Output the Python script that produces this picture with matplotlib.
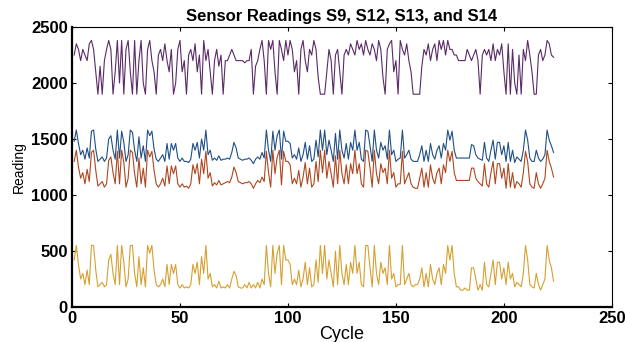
import matplotlib.pyplot as plt
import numpy as np

# readings per cycle
s9 = [2250, 2350, 2300, 2200, 2300, 2250, 2200, 2350, 2380, 2300,
      2100, 1900, 2150, 1900, 2200, 2300, 2380, 2300, 1900, 2100,
      2380, 2000, 2380, 1900, 2300, 2380, 2100, 1900, 2380, 1900,
      2200, 2380, 2000, 1900, 2300, 2380, 2200, 2100, 1900, 2250,
      2300, 2200, 2350, 2200, 2100, 2300, 1900, 2000, 2300, 2380,
      2100, 2200, 1900, 2250, 2300, 2200, 2350, 2100, 2250, 1900,
      2380, 2200, 2300, 2100, 1900, 2200, 2300, 2150, 2250, 1900,
      2200, 2200, 2250, 2300, 2250, 2200, 2200, 2200, 2200, 2180,
      2200, 2200, 2300, 1900, 2150, 2200, 2300, 2380, 2200, 1900,
      2380, 2300, 2380, 2100, 1900, 2380, 2300, 2200, 2380, 2250,
      2380, 2300, 2100, 2200, 1900, 2300, 2380, 2200, 2100, 2300,
      2250, 2380, 2300, 2050, 1900, 1900, 1900, 2100, 2300, 2200,
      1900, 2250, 2300, 2100, 1900, 2250, 2300, 2250, 2350, 2300,
      2250, 2380, 2300, 2350, 2250, 2380, 2300, 2250, 2350, 2300,
      2200, 2380, 2300, 2050, 1900, 2300, 2350, 2380, 2100, 2200,
      1900, 2380, 2300, 2250, 2350, 2200, 2100, 1900, 1900, 1900,
      1900, 2150, 2300, 2250, 2350, 2200, 2300, 2350, 2200, 2380,
      2300, 2380, 2250, 2380, 2300, 2300, 2250, 2250, 2200, 2200,
      2200, 2200, 2300, 2250, 2200, 2250, 2300, 2200, 1900, 2250,
      2300, 2250, 2300, 2200, 2350, 2200, 2300, 2250, 2350, 2100,
      1900, 2350, 1900, 2300, 2000, 1900, 2250, 1900, 2300, 2200,
      2380, 2250, 2100, 1900, 1900, 2250, 2300, 2200, 2250, 2380,
      2350, 2250, 2230]

s12 = [1480, 1580, 1460, 1360, 1400, 1320, 1420, 1330, 1570, 1580,
       1410, 1300, 1320, 1340, 1300, 1330, 1500, 1530, 1400, 1320,
       1580, 1330, 1570, 1470, 1300, 1360, 1580, 1560, 1400, 1300,
       1520, 1330, 1440, 1300, 1580, 1530, 1570, 1410, 1320, 1300,
       1330, 1360, 1300, 1460, 1320, 1460, 1400, 1460, 1330, 1300,
       1330, 1300, 1300, 1290, 1320, 1460, 1400, 1470, 1330, 1500,
       1400, 1580, 1360, 1400, 1310, 1330, 1310, 1350, 1310, 1320,
       1320, 1330, 1320, 1380, 1470, 1420, 1330, 1320, 1310, 1320,
       1320, 1330, 1310, 1280, 1320, 1340, 1320, 1380, 1330, 1580,
       1400, 1300, 1570, 1400, 1530, 1580, 1320, 1570, 1480, 1480,
       1460, 1330, 1360, 1320, 1420, 1300, 1360, 1470, 1320, 1440,
       1300, 1320, 1490, 1340, 1580, 1400, 1580, 1360, 1490, 1400,
       1300, 1550, 1320, 1580, 1400, 1330, 1460, 1320, 1470, 1400,
       1580, 1400, 1470, 1320, 1300, 1580, 1570, 1440, 1300, 1580,
       1400, 1330, 1470, 1400, 1440, 1320, 1580, 1360, 1400, 1300,
       1320, 1330, 1580, 1330, 1360, 1400, 1320, 1300, 1300, 1300,
       1360, 1440, 1300, 1400, 1300, 1460, 1360, 1320, 1400, 1440,
       1330, 1460, 1400, 1580, 1490, 1570, 1400, 1330, 1330, 1330,
       1330, 1330, 1330, 1330, 1450, 1440, 1360, 1330, 1320, 1310,
       1470, 1330, 1300, 1400, 1490, 1320, 1470, 1470, 1360, 1440,
       1300, 1470, 1300, 1400, 1290, 1340, 1320, 1300, 1400, 1580,
       1490, 1330, 1300, 1300, 1400, 1330, 1300, 1320, 1360, 1580,
       1490, 1440, 1380]

s13 = [1300, 1400, 1250, 1150, 1200, 1100, 1230, 1120, 1380, 1400,
       1220, 1080, 1100, 1120, 1070, 1100, 1310, 1340, 1200, 1100,
       1390, 1100, 1400, 1290, 1070, 1150, 1400, 1380, 1190, 1070,
       1330, 1100, 1240, 1070, 1400, 1340, 1390, 1220, 1100, 1070,
       1100, 1150, 1080, 1260, 1100, 1260, 1190, 1260, 1100, 1070,
       1100, 1070, 1080, 1060, 1100, 1270, 1190, 1280, 1100, 1320,
       1190, 1390, 1150, 1200, 1080, 1110, 1090, 1130, 1090, 1100,
       1110, 1120, 1110, 1160, 1250, 1200, 1120, 1110, 1100, 1110,
       1110, 1120, 1100, 1060, 1100, 1130, 1110, 1160, 1120, 1390,
       1200, 1070, 1400, 1190, 1340, 1400, 1090, 1390, 1300, 1300,
       1270, 1100, 1150, 1100, 1220, 1070, 1160, 1290, 1100, 1240,
       1070, 1100, 1300, 1120, 1400, 1200, 1400, 1150, 1300, 1190,
       1070, 1350, 1100, 1400, 1190, 1100, 1270, 1100, 1280, 1190,
       1400, 1190, 1280, 1100, 1070, 1400, 1390, 1240, 1070, 1400,
       1190, 1100, 1280, 1200, 1240, 1100, 1400, 1150, 1200, 1070,
       1100, 1100, 1390, 1100, 1150, 1200, 1100, 1070, 1060, 1060,
       1150, 1240, 1070, 1200, 1070, 1270, 1150, 1100, 1200, 1240,
       1100, 1270, 1200, 1400, 1300, 1390, 1200, 1130, 1130, 1130,
       1130, 1130, 1130, 1130, 1240, 1240, 1150, 1120, 1100, 1080,
       1280, 1100, 1070, 1200, 1300, 1100, 1280, 1280, 1150, 1240,
       1060, 1280, 1070, 1200, 1060, 1120, 1100, 1070, 1200, 1390,
       1300, 1100, 1070, 1060, 1200, 1100, 1060, 1100, 1150, 1400,
       1300, 1240, 1160]

s14 = [420, 550, 380, 250, 300, 200, 330, 200, 550, 550,
       330, 180, 200, 220, 180, 200, 420, 470, 300, 200,
       550, 200, 550, 400, 180, 250, 550, 550, 300, 180,
       450, 200, 350, 180, 550, 480, 550, 330, 200, 180,
       200, 250, 180, 380, 200, 380, 300, 380, 200, 170,
       200, 170, 180, 170, 200, 380, 300, 400, 200, 450,
       300, 550, 250, 300, 180, 200, 170, 230, 170, 180,
       170, 200, 170, 250, 320, 280, 180, 170, 170, 200,
       170, 220, 170, 200, 170, 220, 170, 250, 200, 550,
       300, 180, 550, 300, 480, 550, 200, 550, 420, 420,
       380, 200, 250, 200, 330, 180, 250, 400, 200, 350,
       180, 200, 420, 220, 550, 300, 550, 250, 420, 300,
       180, 500, 200, 550, 300, 200, 380, 200, 400, 300,
       550, 300, 400, 200, 180, 550, 550, 350, 180, 550,
       300, 200, 400, 300, 350, 200, 550, 250, 300, 180,
       200, 200, 550, 200, 250, 300, 200, 180, 200, 200,
       250, 350, 180, 300, 180, 380, 250, 200, 300, 350,
       200, 380, 300, 550, 420, 550, 300, 180, 180, 150,
       150, 170, 150, 150, 350, 350, 250, 150, 200, 150,
       400, 200, 180, 300, 420, 200, 400, 400, 250, 350,
       200, 400, 250, 300, 180, 220, 200, 180, 300, 550,
       420, 200, 180, 170, 300, 200, 150, 200, 250, 550,
       420, 350, 230]

cycles = np.arange(1, len(s14) + 1)

plt.rcParams['font.family'] = ['Liberation Sans', 'DejaVu Sans']

fig = plt.figure(figsize=(6.25, 3.42), dpi=100)
ax = fig.add_axes([0.1152, 0.1023, 0.8638, 0.8187])

ax.plot(cycles, s9, color='#5a2a66', lw=0.8)
ax.plot(cycles, s12, color='#1f4f85', lw=0.8)
ax.plot(cycles, s13, color='#b0461f', lw=0.8)
ax.plot(cycles, s14, color='#d6a030', lw=0.8)

ax.set_xlim(0, 250)
ax.set_ylim(0, 2500)
ax.set_xticks([0, 50, 100, 150, 200, 250])
ax.set_yticks([0, 500, 1000, 1500, 2000, 2500])
ax.tick_params(direction='in', top=True, right=True, length=3,
               labelsize=12, pad=3)
for lab in ax.get_xticklabels() + ax.get_yticklabels():
    lab.set_fontweight('bold')
ax.spines['left'].set_linewidth(1.6)
ax.spines['bottom'].set_linewidth(1.6)
ax.spines['right'].set_linewidth(0.8)
ax.spines['top'].set_linewidth(0.8)

ax.set_title('Sensor Readings S9, S12, S13, and S14', fontsize=12,
             fontweight='bold', pad=4)
ax.set_xlabel('Cycle', fontsize=13, labelpad=0)
ax.set_ylabel('Reading', fontsize=10,
              family=['Liberation Sans Narrow', 'Liberation Sans'],
              labelpad=4)

fig.savefig('out.png', dpi=100)
